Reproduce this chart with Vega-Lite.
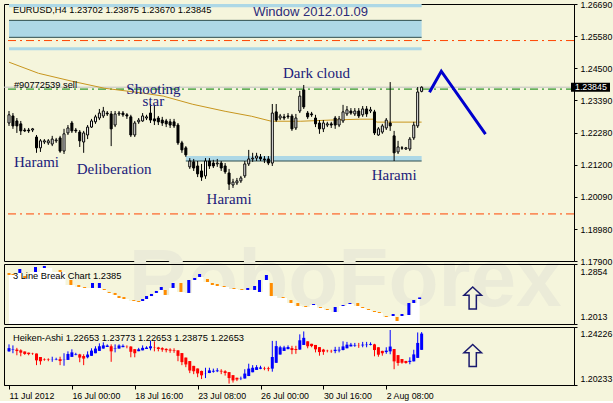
{
"$schema": "https://vega.github.io/schema/vega-lite/v6.json",
"background": "#F5F5DC",
"padding": {"left": 3, "top": -1, "right": 0, "bottom": 0},
"spacing": 3,
"bounds": "flush",
"config": {
  "view": {"stroke": "#000000", "strokeWidth": 1},
  "axis": {"domainColor": "#000000", "tickColor": "#000000", "labelColor": "#000000", "labelFont": "Liberation Sans", "labelFontSize": 8.8, "grid": false, "tickSize": 3, "labelPadding": 3, "labelOverlap": false}
},
"datasets": {
  "candles": [
{"i":0,"o":1.2262,"h":1.2303,"l":1.2252,"c":1.2290},
{"i":1,"o":1.2286,"h":1.2296,"l":1.2242,"c":1.2252},
{"i":2,"o":1.2269,"h":1.2279,"l":1.2228,"c":1.2252},
{"i":3,"o":1.2259,"h":1.2269,"l":1.2221,"c":1.2235},
{"i":4,"o":1.2238,"h":1.2245,"l":1.2231,"c":1.2235},
{"i":5,"o":1.2238,"h":1.2245,"l":1.2228,"c":1.2235},
{"i":6,"o":1.2238,"h":1.2245,"l":1.2231,"c":1.2242},
{"i":7,"o":1.2214,"h":1.2221,"l":1.2160,"c":1.2177},
{"i":8,"o":1.2177,"h":1.2207,"l":1.2163,"c":1.2201},
{"i":9,"o":1.2197,"h":1.2207,"l":1.2190,"c":1.2201},
{"i":10,"o":1.2194,"h":1.2207,"l":1.2187,"c":1.2201},
{"i":11,"o":1.2190,"h":1.2218,"l":1.2183,"c":1.2207},
{"i":12,"o":1.2201,"h":1.2211,"l":1.2194,"c":1.2204},
{"i":13,"o":1.2211,"h":1.2218,"l":1.2160,"c":1.2166},
{"i":14,"o":1.2166,"h":1.2242,"l":1.2156,"c":1.2225},
{"i":15,"o":1.2228,"h":1.2255,"l":1.2221,"c":1.2245},
{"i":16,"o":1.2262,"h":1.2269,"l":1.2228,"c":1.2235},
{"i":17,"o":1.2238,"h":1.2245,"l":1.2228,"c":1.2235},
{"i":18,"o":1.2231,"h":1.2238,"l":1.2180,"c":1.2201},
{"i":19,"o":1.2197,"h":1.2235,"l":1.2160,"c":1.2228},
{"i":20,"o":1.2221,"h":1.2255,"l":1.2207,"c":1.2248},
{"i":21,"o":1.2248,"h":1.2276,"l":1.2245,"c":1.2269},
{"i":22,"o":1.2266,"h":1.2290,"l":1.2259,"c":1.2283},
{"i":23,"o":1.2279,"h":1.2310,"l":1.2272,"c":1.2296},
{"i":24,"o":1.2286,"h":1.2317,"l":1.2279,"c":1.2303},
{"i":25,"o":1.2296,"h":1.2303,"l":1.2286,"c":1.2293},
{"i":26,"o":1.2293,"h":1.2303,"l":1.2183,"c":1.2242},
{"i":27,"o":1.2255,"h":1.2303,"l":1.2248,"c":1.2293},
{"i":28,"o":1.2293,"h":1.2303,"l":1.2286,"c":1.2296},
{"i":29,"o":1.2296,"h":1.2303,"l":1.2283,"c":1.2290},
{"i":30,"o":1.2290,"h":1.2296,"l":1.2276,"c":1.2286},
{"i":31,"o":1.2283,"h":1.2290,"l":1.2214,"c":1.2221},
{"i":32,"o":1.2221,"h":1.2269,"l":1.2214,"c":1.2262},
{"i":33,"o":1.2266,"h":1.2279,"l":1.2259,"c":1.2272},
{"i":34,"o":1.2269,"h":1.2296,"l":1.2266,"c":1.2286},
{"i":35,"o":1.2279,"h":1.2290,"l":1.2272,"c":1.2283},
{"i":36,"o":1.2296,"h":1.2327,"l":1.2262,"c":1.2272},
{"i":37,"o":1.2276,"h":1.2324,"l":1.2255,"c":1.2269},
{"i":38,"o":1.2279,"h":1.2286,"l":1.2255,"c":1.2266},
{"i":39,"o":1.2272,"h":1.2283,"l":1.2252,"c":1.2262},
{"i":40,"o":1.2269,"h":1.2276,"l":1.2248,"c":1.2259},
{"i":41,"o":1.2266,"h":1.2276,"l":1.2245,"c":1.2255},
{"i":42,"o":1.2266,"h":1.2276,"l":1.2245,"c":1.2252},
{"i":43,"o":1.2255,"h":1.2262,"l":1.2187,"c":1.2194},
{"i":44,"o":1.2194,"h":1.2201,"l":1.2160,"c":1.2170},
{"i":45,"o":1.2177,"h":1.2183,"l":1.2146,"c":1.2153},
{"i":46,"o":1.2112,"h":1.2142,"l":1.2105,"c":1.2132},
{"i":47,"o":1.2129,"h":1.2139,"l":1.2098,"c":1.2108},
{"i":48,"o":1.2115,"h":1.2132,"l":1.2077,"c":1.2088},
{"i":49,"o":1.2098,"h":1.2122,"l":1.2064,"c":1.2077},
{"i":50,"o":1.2081,"h":1.2142,"l":1.2071,"c":1.2132},
{"i":51,"o":1.2132,"h":1.2142,"l":1.2105,"c":1.2115},
{"i":52,"o":1.2125,"h":1.2136,"l":1.2108,"c":1.2115},
{"i":53,"o":1.2122,"h":1.2139,"l":1.2112,"c":1.2125},
{"i":54,"o":1.2125,"h":1.2132,"l":1.2098,"c":1.2108},
{"i":55,"o":1.2115,"h":1.2125,"l":1.2088,"c":1.2095},
{"i":56,"o":1.2091,"h":1.2105,"l":1.2033,"c":1.2053},
{"i":57,"o":1.2050,"h":1.2071,"l":1.2040,"c":1.2060},
{"i":58,"o":1.2057,"h":1.2074,"l":1.2050,"c":1.2064},
{"i":59,"o":1.2064,"h":1.2081,"l":1.2057,"c":1.2074},
{"i":60,"o":1.2081,"h":1.2132,"l":1.2074,"c":1.2122},
{"i":61,"o":1.2122,"h":1.2170,"l":1.2115,"c":1.2139},
{"i":62,"o":1.2139,"h":1.2160,"l":1.2129,"c":1.2142},
{"i":63,"o":1.2142,"h":1.2160,"l":1.2132,"c":1.2149},
{"i":64,"o":1.2146,"h":1.2156,"l":1.2132,"c":1.2139},
{"i":65,"o":1.2139,"h":1.2149,"l":1.2125,"c":1.2136},
{"i":66,"o":1.2139,"h":1.2149,"l":1.2118,"c":1.2125},
{"i":67,"o":1.2125,"h":1.2327,"l":1.2115,"c":1.2296},
{"i":68,"o":1.2300,"h":1.2327,"l":1.2266,"c":1.2272},
{"i":69,"o":1.2279,"h":1.2293,"l":1.2272,"c":1.2286},
{"i":70,"o":1.2283,"h":1.2293,"l":1.2272,"c":1.2279},
{"i":71,"o":1.2286,"h":1.2296,"l":1.2276,"c":1.2283},
{"i":72,"o":1.2286,"h":1.2293,"l":1.2235,"c":1.2242},
{"i":73,"o":1.2245,"h":1.2293,"l":1.2238,"c":1.2279},
{"i":74,"o":1.2303,"h":1.2372,"l":1.2296,"c":1.2354},
{"i":75,"o":1.2375,"h":1.2392,"l":1.2310,"c":1.2317},
{"i":76,"o":1.2296,"h":1.2303,"l":1.2276,"c":1.2283},
{"i":77,"o":1.2293,"h":1.2300,"l":1.2283,"c":1.2290},
{"i":78,"o":1.2279,"h":1.2290,"l":1.2248,"c":1.2259},
{"i":79,"o":1.2262,"h":1.2272,"l":1.2225,"c":1.2242},
{"i":80,"o":1.2242,"h":1.2272,"l":1.2231,"c":1.2262},
{"i":81,"o":1.2255,"h":1.2266,"l":1.2248,"c":1.2259},
{"i":82,"o":1.2259,"h":1.2266,"l":1.2245,"c":1.2255},
{"i":83,"o":1.2279,"h":1.2286,"l":1.2242,"c":1.2255},
{"i":84,"o":1.2255,"h":1.2286,"l":1.2248,"c":1.2276},
{"i":85,"o":1.2269,"h":1.2324,"l":1.2262,"c":1.2300},
{"i":86,"o":1.2293,"h":1.2320,"l":1.2286,"c":1.2307},
{"i":87,"o":1.2303,"h":1.2313,"l":1.2290,"c":1.2296},
{"i":88,"o":1.2293,"h":1.2313,"l":1.2286,"c":1.2303},
{"i":89,"o":1.2303,"h":1.2313,"l":1.2279,"c":1.2286},
{"i":90,"o":1.2290,"h":1.2320,"l":1.2283,"c":1.2310},
{"i":91,"o":1.2310,"h":1.2320,"l":1.2283,"c":1.2293},
{"i":92,"o":1.2303,"h":1.2317,"l":1.2296,"c":1.2307},
{"i":93,"o":1.2300,"h":1.2307,"l":1.2221,"c":1.2228},
{"i":94,"o":1.2221,"h":1.2248,"l":1.2218,"c":1.2242},
{"i":95,"o":1.2231,"h":1.2259,"l":1.2225,"c":1.2252},
{"i":96,"o":1.2245,"h":1.2279,"l":1.2238,"c":1.2272},
{"i":97,"o":1.2262,"h":1.2402,"l":1.2235,"c":1.2252},
{"i":98,"o":1.2218,"h":1.2235,"l":1.2132,"c":1.2160},
{"i":99,"o":1.2163,"h":1.2201,"l":1.2156,"c":1.2180},
{"i":100,"o":1.2177,"h":1.2183,"l":1.2170,"c":1.2176},
{"i":101,"o":1.2173,"h":1.2180,"l":1.2170,"c":1.2177},
{"i":102,"o":1.2173,"h":1.2214,"l":1.2166,"c":1.2207},
{"i":103,"o":1.2211,"h":1.2266,"l":1.2204,"c":1.2255},
{"i":104,"o":1.2252,"h":1.2385,"l":1.2245,"c":1.2368},
{"i":105,"o":1.23702,"h":1.23875,"l":1.23670,"c":1.23845}
  ],
  "ha": [
{"i":0,"o":1.2255,"c":1.2277,"h":1.2303,"l":1.2252},
{"i":1,"o":1.2266,"c":1.2269,"h":1.2296,"l":1.2242},
{"i":2,"o":1.2267,"c":1.2257,"h":1.2279,"l":1.2228},
{"i":3,"o":1.2262,"c":1.2246,"h":1.2269,"l":1.2221},
{"i":4,"o":1.2254,"c":1.2237,"h":1.2254,"l":1.2231},
{"i":5,"o":1.2246,"c":1.2236,"h":1.2246,"l":1.2228},
{"i":6,"o":1.2241,"c":1.2239,"h":1.2245,"l":1.2231},
{"i":7,"o":1.2240,"c":1.2193,"h":1.2240,"l":1.2160},
{"i":8,"o":1.2216,"c":1.2187,"h":1.2216,"l":1.2163},
{"i":9,"o":1.2202,"c":1.2199,"h":1.2207,"l":1.2190},
{"i":10,"o":1.2200,"c":1.2197,"h":1.2207,"l":1.2187},
{"i":11,"o":1.2199,"c":1.2200,"h":1.2218,"l":1.2183},
{"i":12,"o":1.2199,"c":1.2202,"h":1.2211,"l":1.2194},
{"i":13,"o":1.2201,"c":1.2189,"h":1.2218,"l":1.2160},
{"i":14,"o":1.2195,"c":1.2197,"h":1.2242,"l":1.2156},
{"i":15,"o":1.2196,"c":1.2237,"h":1.2255,"l":1.2196},
{"i":16,"o":1.2217,"c":1.2248,"h":1.2269,"l":1.2217},
{"i":17,"o":1.2232,"c":1.2236,"h":1.2245,"l":1.2228},
{"i":18,"o":1.2234,"c":1.2212,"h":1.2238,"l":1.2180},
{"i":19,"o":1.2223,"c":1.2205,"h":1.2235,"l":1.2160},
{"i":20,"o":1.2214,"c":1.2233,"h":1.2255,"l":1.2207},
{"i":21,"o":1.2224,"c":1.2260,"h":1.2276,"l":1.2224},
{"i":22,"o":1.2242,"c":1.2274,"h":1.2290,"l":1.2242},
{"i":23,"o":1.2258,"c":1.2290,"h":1.2310,"l":1.2258},
{"i":24,"o":1.2274,"c":1.2296,"h":1.2317,"l":1.2274},
{"i":25,"o":1.2285,"c":1.2295,"h":1.2303,"l":1.2285},
{"i":26,"o":1.2290,"c":1.2255,"h":1.2303,"l":1.2183},
{"i":27,"o":1.2272,"c":1.2275,"h":1.2303,"l":1.2248},
{"i":28,"o":1.2274,"c":1.2295,"h":1.2303,"l":1.2274},
{"i":29,"o":1.2284,"c":1.2293,"h":1.2303,"l":1.2283},
{"i":30,"o":1.2288,"c":1.2287,"h":1.2296,"l":1.2276},
{"i":31,"o":1.2288,"c":1.2252,"h":1.2290,"l":1.2214},
{"i":32,"o":1.2270,"c":1.2242,"h":1.2270,"l":1.2214},
{"i":33,"o":1.2256,"c":1.2269,"h":1.2279,"l":1.2256},
{"i":34,"o":1.2262,"c":1.2279,"h":1.2296,"l":1.2262},
{"i":35,"o":1.2271,"c":1.2281,"h":1.2290,"l":1.2271},
{"i":36,"o":1.2276,"c":1.2290,"h":1.2327,"l":1.2262},
{"i":37,"o":1.2283,"c":1.2281,"h":1.2324,"l":1.2255},
{"i":38,"o":1.2282,"c":1.2271,"h":1.2286,"l":1.2255},
{"i":39,"o":1.2277,"c":1.2267,"h":1.2283,"l":1.2252},
{"i":40,"o":1.2272,"c":1.2263,"h":1.2276,"l":1.2248},
{"i":41,"o":1.2267,"c":1.2260,"h":1.2276,"l":1.2245},
{"i":42,"o":1.2264,"c":1.2260,"h":1.2276,"l":1.2245},
{"i":43,"o":1.2262,"c":1.2224,"h":1.2262,"l":1.2187},
{"i":44,"o":1.2243,"c":1.2181,"h":1.2243,"l":1.2160},
{"i":45,"o":1.2212,"c":1.2165,"h":1.2212,"l":1.2146},
{"i":46,"o":1.2188,"c":1.2123,"h":1.2188,"l":1.2105},
{"i":47,"o":1.2155,"c":1.2118,"h":1.2155,"l":1.2098},
{"i":48,"o":1.2137,"c":1.2103,"h":1.2137,"l":1.2077},
{"i":49,"o":1.2120,"c":1.2090,"h":1.2122,"l":1.2064},
{"i":50,"o":1.2105,"c":1.2106,"h":1.2142,"l":1.2071},
{"i":51,"o":1.2106,"c":1.2124,"h":1.2142,"l":1.2105},
{"i":52,"o":1.2115,"c":1.2121,"h":1.2136,"l":1.2108},
{"i":53,"o":1.2118,"c":1.2124,"h":1.2139,"l":1.2112},
{"i":54,"o":1.2121,"c":1.2116,"h":1.2132,"l":1.2098},
{"i":55,"o":1.2118,"c":1.2106,"h":1.2125,"l":1.2088},
{"i":56,"o":1.2112,"c":1.2071,"h":1.2112,"l":1.2033},
{"i":57,"o":1.2091,"c":1.2055,"h":1.2091,"l":1.2040},
{"i":58,"o":1.2073,"c":1.2061,"h":1.2074,"l":1.2050},
{"i":59,"o":1.2067,"c":1.2069,"h":1.2081,"l":1.2057},
{"i":60,"o":1.2068,"c":1.2102,"h":1.2132,"l":1.2068},
{"i":61,"o":1.2085,"c":1.2136,"h":1.2170,"l":1.2085},
{"i":62,"o":1.2111,"c":1.2142,"h":1.2160,"l":1.2111},
{"i":63,"o":1.2127,"c":1.2146,"h":1.2160,"l":1.2127},
{"i":64,"o":1.2136,"c":1.2143,"h":1.2156,"l":1.2132},
{"i":65,"o":1.2140,"c":1.2137,"h":1.2149,"l":1.2125},
{"i":66,"o":1.2138,"c":1.2133,"h":1.2149,"l":1.2118},
{"i":67,"o":1.2136,"c":1.2216,"h":1.2327,"l":1.2115},
{"i":68,"o":1.2176,"c":1.2291,"h":1.2327,"l":1.2176},
{"i":69,"o":1.2233,"c":1.2283,"h":1.2293,"l":1.2233},
{"i":70,"o":1.2258,"c":1.2282,"h":1.2293,"l":1.2258},
{"i":71,"o":1.2270,"c":1.2285,"h":1.2296,"l":1.2270},
{"i":72,"o":1.2277,"c":1.2264,"h":1.2293,"l":1.2235},
{"i":73,"o":1.2271,"c":1.2264,"h":1.2293,"l":1.2238},
{"i":74,"o":1.2267,"c":1.2331,"h":1.2372,"l":1.2267},
{"i":75,"o":1.2299,"c":1.2348,"h":1.2392,"l":1.2299},
{"i":76,"o":1.2324,"c":1.2290,"h":1.2324,"l":1.2276},
{"i":77,"o":1.2307,"c":1.2291,"h":1.2307,"l":1.2283},
{"i":78,"o":1.2299,"c":1.2269,"h":1.2299,"l":1.2248},
{"i":79,"o":1.2284,"c":1.2250,"h":1.2284,"l":1.2225},
{"i":80,"o":1.2267,"c":1.2252,"h":1.2272,"l":1.2231},
{"i":81,"o":1.2259,"c":1.2257,"h":1.2266,"l":1.2248},
{"i":82,"o":1.2258,"c":1.2256,"h":1.2266,"l":1.2245},
{"i":83,"o":1.2257,"c":1.2266,"h":1.2286,"l":1.2242},
{"i":84,"o":1.2261,"c":1.2266,"h":1.2286,"l":1.2248},
{"i":85,"o":1.2264,"c":1.2289,"h":1.2324,"l":1.2262},
{"i":86,"o":1.2276,"c":1.2301,"h":1.2320,"l":1.2276},
{"i":87,"o":1.2289,"c":1.2301,"h":1.2313,"l":1.2289},
{"i":88,"o":1.2295,"c":1.2299,"h":1.2313,"l":1.2286},
{"i":89,"o":1.2297,"c":1.2296,"h":1.2313,"l":1.2279},
{"i":90,"o":1.2296,"c":1.2301,"h":1.2320,"l":1.2283},
{"i":91,"o":1.2298,"c":1.2301,"h":1.2320,"l":1.2283},
{"i":92,"o":1.2300,"c":1.2306,"h":1.2317,"l":1.2296},
{"i":93,"o":1.2303,"c":1.2264,"h":1.2307,"l":1.2221},
{"i":94,"o":1.2283,"c":1.2232,"h":1.2283,"l":1.2218},
{"i":95,"o":1.2258,"c":1.2242,"h":1.2259,"l":1.2225},
{"i":96,"o":1.2250,"c":1.2260,"h":1.2283,"l":1.2238},
{"i":97,"o":1.2255,"c":1.2288,"h":1.2402,"l":1.2235},
{"i":98,"o":1.2271,"c":1.2186,"h":1.2271,"l":1.2132},
{"i":99,"o":1.2229,"c":1.2175,"h":1.2229,"l":1.2156},
{"i":100,"o":1.2202,"c":1.2177,"h":1.2202,"l":1.2170},
{"i":101,"o":1.2189,"c":1.2175,"h":1.2189,"l":1.2170},
{"i":102,"o":1.2182,"c":1.2190,"h":1.2214,"l":1.2166},
{"i":103,"o":1.2186,"c":1.2234,"h":1.2266,"l":1.2186},
{"i":104,"o":1.2210,"c":1.2313,"h":1.2385,"l":1.2210},
{"i":105,"o":1.22653,"c":1.23773,"h":1.23875,"l":1.22653}
  ],
  "lb": [
{"i":0,"top":1.2728,"bot":1.2700,"up":false},
{"i":1,"top":1.2714,"bot":1.2700,"up":false},
{"i":2.75,"top":1.2784,"bot":1.2728,"up":true},
{"i":4,"top":1.2686,"bot":1.2658,"up":false},
{"i":6.75,"top":1.2812,"bot":1.2742,"up":true},
{"i":9,"top":1.2826,"bot":1.2798,"up":true},
{"i":13,"top":1.2770,"bot":1.2742,"up":false},
{"i":15.75,"top":1.2630,"bot":1.2560,"up":false},
{"i":17.75,"top":1.2560,"bot":1.2532,"up":false},
{"i":19.25,"top":1.2532,"bot":1.2518,"up":false},
{"i":21.25,"top":1.2588,"bot":1.2518,"up":true},
{"i":23,"top":1.2588,"bot":1.2518,"up":true},
{"i":24.25,"top":1.2504,"bot":1.2490,"up":false},
{"i":25.5,"top":1.2462,"bot":1.2448,"up":false},
{"i":27,"top":1.2448,"bot":1.2420,"up":false},
{"i":28,"top":1.2405,"bot":1.2377,"up":false},
{"i":29.25,"top":1.2391,"bot":1.2363,"up":false},
{"i":31.75,"top":1.2349,"bot":1.2335,"up":false},
{"i":33,"top":1.2335,"bot":1.2321,"up":false},
{"i":34,"top":1.2363,"bot":1.2335,"up":true},
{"i":35,"top":1.2405,"bot":1.2363,"up":true},
{"i":36.25,"top":1.2434,"bot":1.2405,"up":true},
{"i":37.5,"top":1.2476,"bot":1.2448,"up":true},
{"i":38.75,"top":1.2532,"bot":1.2490,"up":true},
{"i":39.75,"top":1.2490,"bot":1.2420,"up":false},
{"i":41.75,"top":1.2588,"bot":1.2518,"up":true},
{"i":43.75,"top":1.2588,"bot":1.2462,"up":false},
{"i":45.75,"top":1.2630,"bot":1.2448,"up":true},
{"i":47.25,"top":1.2658,"bot":1.2630,"up":true},
{"i":48.5,"top":1.2714,"bot":1.2672,"up":true},
{"i":50.5,"top":1.2644,"bot":1.2602,"up":false},
{"i":51.75,"top":1.2588,"bot":1.2560,"up":false},
{"i":53,"top":1.2574,"bot":1.2546,"up":false},
{"i":54.75,"top":1.2546,"bot":1.2532,"up":false},
{"i":57.25,"top":1.2518,"bot":1.2504,"up":false},
{"i":59.25,"top":1.2504,"bot":1.2490,"up":false},
{"i":60.75,"top":1.2518,"bot":1.2490,"up":true},
{"i":62.5,"top":1.2546,"bot":1.2490,"up":true},
{"i":63.75,"top":1.2630,"bot":1.2462,"up":true},
{"i":65.5,"top":1.2700,"bot":1.2630,"up":true},
{"i":66.75,"top":1.2588,"bot":1.2405,"up":false},
{"i":69.75,"top":1.2391,"bot":1.2377,"up":false},
{"i":71.75,"top":1.2349,"bot":1.2307,"up":false},
{"i":73.5,"top":1.2307,"bot":1.2265,"up":false},
{"i":75.5,"top":1.2265,"bot":1.2251,"up":false},
{"i":77.5,"top":1.2293,"bot":1.2279,"up":true},
{"i":79.25,"top":1.2251,"bot":1.2237,"up":false},
{"i":81,"top":1.2223,"bot":1.2209,"up":false},
{"i":83,"top":1.2251,"bot":1.2181,"up":true},
{"i":85,"top":1.2279,"bot":1.2265,"up":true},
{"i":86.75,"top":1.2307,"bot":1.2293,"up":true},
{"i":88.75,"top":1.2307,"bot":1.2265,"up":false},
{"i":90,"top":1.2251,"bot":1.2237,"up":false},
{"i":91.5,"top":1.2223,"bot":1.2209,"up":false},
{"i":93,"top":1.2195,"bot":1.2181,"up":false},
{"i":94.25,"top":1.2181,"bot":1.2167,"up":false},
{"i":96,"top":1.2125,"bot":1.2111,"up":false},
{"i":97.75,"top":1.2153,"bot":1.2125,"up":true},
{"i":98.75,"top":1.2111,"bot":1.2055,"up":false},
{"i":100,"top":1.2153,"bot":1.2125,"up":true},
{"i":101.75,"top":1.2307,"bot":1.2139,"up":true},
{"i":103,"top":1.2349,"bot":1.2307,"up":true},
{"i":104.5,"top":1.2385,"bot":1.2363,"up":true}
  ],
  "ma": [
{"i":0,"v":1.2470},{"i":7.5,"v":1.2432},{"i":16,"v":1.2405},{"i":24.25,"v":1.2381},{"i":34.25,"v":1.2364},{"i":39.25,"v":1.2354},{"i":46.75,"v":1.2326},{"i":55,"v":1.2302},{"i":61.75,"v":1.2285},{"i":66.75,"v":1.2268},{"i":74.25,"v":1.2268},{"i":81.75,"v":1.2272},{"i":89.25,"v":1.2275},{"i":93,"v":1.2275},{"i":93.5,"v":1.2265},{"i":105,"v":1.2265}
  ]
},
"vconcat": [
 {
  "width": 570, "height": 257,
  "layer": [
   {"data": {"values": [{"i0":0,"i1":105,"lo":1.2658,"hi":1.2669},{"i0":0,"i1":105,"lo":1.2555,"hi":1.2613},{"i0":0,"i1":105,"lo":1.2511,"hi":1.2521},{"i0":45,"i1":105,"lo":1.2132,"hi":1.2149}]},
    "mark": {"type": "rect", "color": "#ADD8E6", "clip": true},
    "encoding": {"x": {"field": "i0", "type": "quantitative", "scale": {"domain": [0, 142.5]}, "axis": null}, "x2": {"field": "i1"},
     "y": {"field": "lo", "type": "quantitative", "scale": {"domain": [1.179, 1.2669], "zero": false},
       "axis": {"orient": "right", "values": [1.179, 1.1898, 1.2009, 1.212, 1.2228, 1.2339, 1.245, 1.2558, 1.2669], "tickCount": 20, "format": ".5f", "title": null, "tickSize": 3, "labelOverlap": false}},
     "y2": {"field": "hi"}}},
   {"data": {"values": [{"t":"RoboForex","i":30.5,"p":1.1636}]},
    "mark": {"type": "text", "font": "Liberation Sans", "fontSize": 82, "fontWeight": "bold", "color": "#EBEBD8", "align": "left", "baseline": "alphabetic"},
    "encoding": {"x": {"field": "i", "type": "quantitative", "scale": {"domain": [0, 142.5]}, "axis": null},
     "y": {"field": "p", "type": "quantitative", "scale": {"domain": [1.179, 1.2669], "zero": false}}, "text": {"field": "t"}}},
   {"data": {"values": [{"i0":0,"i1":105,"lv":1.2613},{"i0":0,"i1":105,"lv":1.2555},{"i0":45,"i1":105,"lv":1.2132}]},
    "mark": {"type": "rule", "color": "#2F4F4F", "strokeWidth": 1},
    "encoding": {"x": {"field": "i0", "type": "quantitative", "scale": {"domain": [0, 142.5]}, "axis": null}, "x2": {"field": "i1"},
     "y": {"field": "lv", "type": "quantitative", "scale": {"domain": [1.179, 1.2669], "zero": false}}}},
   {"data": {"values": [{"lv":1.2544},{"lv":1.1951}]},
    "mark": {"type": "rule", "color": "#FF4500", "strokeWidth": 1, "strokeDash": [8, 4, 2, 4]},
    "encoding": {"y": {"field": "lv", "type": "quantitative", "scale": {"domain": [1.179, 1.2669], "zero": false}}}},
   {"data": {"values": [{"lv":1.23845}]},
    "mark": {"type": "rule", "color": "#C0C0C0", "strokeWidth": 1},
    "encoding": {"y": {"field": "lv", "type": "quantitative", "scale": {"domain": [1.179, 1.2669], "zero": false}}}},
   {"data": {"values": [{"lv":1.2378}]},
    "mark": {"type": "rule", "color": "#008000", "strokeWidth": 1, "strokeDash": [8, 4, 2, 4]},
    "encoding": {"y": {"field": "lv", "type": "quantitative", "scale": {"domain": [1.179, 1.2669], "zero": false}}}},
   {"data": {"name": "ma"},
    "mark": {"type": "line", "color": "#C8961E", "strokeWidth": 1, "clip": true},
    "encoding": {"x": {"field": "i", "type": "quantitative", "scale": {"domain": [0, 142.5]}, "axis": null},
     "y": {"field": "v", "type": "quantitative", "scale": {"domain": [1.179, 1.2669], "zero": false}}}},
   {"data": {"name": "candles"},
    "mark": {"type": "rule", "color": "#000000", "strokeWidth": 1, "clip": true},
    "encoding": {"x": {"field": "i", "type": "quantitative", "scale": {"domain": [0, 142.5]}, "axis": null},
     "y": {"field": "l", "type": "quantitative", "scale": {"domain": [1.179, 1.2669], "zero": false}}, "y2": {"field": "h"}}},
   {"data": {"name": "candles"},
    "mark": {"type": "bar", "width": 2, "stroke": "#000000", "strokeWidth": 1, "clip": true},
    "encoding": {"x": {"field": "i", "type": "quantitative", "scale": {"domain": [0, 142.5]}, "axis": null},
     "y": {"field": "o", "type": "quantitative", "scale": {"domain": [1.179, 1.2669], "zero": false}},
     "y2": {"field": "c"},
     "fill": {"condition": {"test": "datum.c >= datum.o", "value": "#FFFFFF"}, "value": "#000000"}}},
   {"data": {"values": [{"t":"Harami","i":7,"p":1.2128},{"t":"Deliberation","i":26.75,"p":1.2104},{"t":"Harami","i":56,"p":1.2002},{"t":"Harami","i":98,"p":1.2084},{"t":"Dark cloud","i":78.25,"p":1.2432}]},
    "mark": {"type": "text", "font": "Liberation Serif", "fontSize": 15, "color": "#20207A", "align": "center", "baseline": "middle"},
    "encoding": {"x": {"field": "i", "type": "quantitative", "scale": {"domain": [0, 142.5]}, "axis": null},
     "y": {"field": "p", "type": "quantitative", "scale": {"domain": [1.179, 1.2669], "zero": false}}, "text": {"field": "t"}}},
   {"data": {"values": [{"t":"Shooting|star","i":36.75,"p":1.2377}]},
    "mark": {"type": "text", "font": "Liberation Serif", "fontSize": 15, "color": "#20207A", "align": "center", "baseline": "middle", "lineBreak": "|", "lineHeight": 11.5},
    "encoding": {"x": {"field": "i", "type": "quantitative", "scale": {"domain": [0, 142.5]}, "axis": null},
     "y": {"field": "p", "type": "quantitative", "scale": {"domain": [1.179, 1.2669], "zero": false}}, "text": {"field": "t"}}},
   {"data": {"values": [{"t":"Window 2012.01.09","i":76.75,"p":1.2642}]},
    "mark": {"type": "text", "font": "Liberation Sans", "fontSize": 13, "color": "#2B2B7A", "align": "center", "baseline": "middle"},
    "encoding": {"x": {"field": "i", "type": "quantitative", "scale": {"domain": [0, 142.5]}, "axis": null},
     "y": {"field": "p", "type": "quantitative", "scale": {"domain": [1.179, 1.2669], "zero": false}}, "text": {"field": "t"}}},
   {"data": {"values": [{"t":"EURUSD,H4  1.23702 1.23875 1.23670 1.23845","i":1,"p":1.26485},{"t":"#90772539 sell","i":1.25,"p":1.2392}]},
    "mark": {"type": "text", "font": "Liberation Sans", "fontSize": 9.3, "color": "#000000", "align": "left", "baseline": "middle"},
    "encoding": {"x": {"field": "i", "type": "quantitative", "scale": {"domain": [0, 142.5]}, "axis": null},
     "y": {"field": "p", "type": "quantitative", "scale": {"domain": [1.179, 1.2669], "zero": false}}, "text": {"field": "t"}}},
   {"data": {"values": [{"i":107,"p":1.2367},{"i":110,"p":1.2439},{"i":121.25,"p":1.2224}]},
    "mark": {"type": "line", "color": "#0000CD", "strokeWidth": 3},
    "encoding": {"x": {"field": "i", "type": "quantitative", "scale": {"domain": [0, 142.5]}, "axis": null},
     "y": {"field": "p", "type": "quantitative", "scale": {"domain": [1.179, 1.2669], "zero": false}}}},
   {"data": {"values": [{"p":1.23845}]},
    "mark": {"type": "rect", "color": "#000000", "xOffset": 2, "x2Offset": 41, "yOffset": -4.5, "y2Offset": 4.5},
    "encoding": {"x": {"datum": 142.5, "type": "quantitative", "scale": {"domain": [0, 142.5]}, "axis": null}, "x2": {"datum": 142.5},
     "y": {"field": "p", "type": "quantitative", "scale": {"domain": [1.179, 1.2669], "zero": false}}, "y2": {"field": "p"}}},
   {"data": {"values": [{"p":1.23845,"t":"1.23845"}]},
    "mark": {"type": "text", "color": "#FFFFFF", "font": "Liberation Sans", "fontSize": 8.8, "align": "left", "baseline": "middle", "dx": 6},
    "encoding": {"x": {"datum": 142.5, "type": "quantitative", "scale": {"domain": [0, 142.5]}, "axis": null},
     "y": {"field": "p", "type": "quantitative", "scale": {"domain": [1.179, 1.2669], "zero": false}}, "text": {"field": "t"}}}
  ]
 },
 {
  "width": 570, "height": 60,
  "layer": [
   {"data": {"name": "lb"},
    "mark": {"type": "area", "color": "#FFFFFF", "interpolate": "step", "clip": true},
    "encoding": {"x": {"field": "i", "type": "quantitative", "scale": {"domain": [0, 142.5]}, "axis": null},
     "y": {"field": "bot", "type": "quantitative", "scale": {"domain": [1.2013, 1.2854], "zero": false},
       "axis": {"orient": "right", "values": [1.2013, 1.2854], "format": ".4f", "title": null, "labelFlush": true, "labelFlushOffset": -3, "tickSize": 3}},
     "y2": {"datum": 1.2013}}},
   {"data": {"name": "lb"},
    "mark": {"type": "bar", "width": 3, "clip": true},
    "encoding": {"x": {"field": "i", "type": "quantitative", "scale": {"domain": [0, 142.5]}, "axis": null},
     "y": {"field": "bot", "type": "quantitative", "scale": {"domain": [1.2013, 1.2854], "zero": false}},
     "y2": {"field": "top"},
     "color": {"condition": {"test": "datum.up", "value": "#0000FF"}, "value": "#FF8C00"}}},
   {"data": {"values": [{"t":"3 Line Break Chart 1.2385","i":1,"p":1.2686}]},
    "mark": {"type": "text", "font": "Liberation Sans", "fontSize": 9.3, "color": "#000000", "align": "left", "baseline": "middle"},
    "encoding": {"x": {"field": "i", "type": "quantitative", "scale": {"domain": [0, 142.5]}, "axis": null},
     "y": {"field": "p", "type": "quantitative", "scale": {"domain": [1.2013, 1.2854], "zero": false}}, "text": {"field": "t"}}},
   {"data": {"values": [{"i":118,"p":1.2377}]},
    "mark": {"type": "point", "shape": "M0,-1L0.8,-0.25L0.33,-0.25L0.33,1L-0.33,1L-0.33,-0.25L-0.8,-0.25Z", "size": 484, "filled": true, "fill": "#F5F5DC", "stroke": "#1A1A6E", "strokeWidth": 1.5, "opacity": 1},
    "encoding": {"x": {"field": "i", "type": "quantitative", "scale": {"domain": [0, 142.5]}, "axis": null},
     "y": {"field": "p", "type": "quantitative", "scale": {"domain": [1.2013, 1.2854], "zero": false}}}}
  ]
 },
 {
  "width": 570, "height": 58,
  "layer": [
   {"data": {"name": "ha"},
    "mark": {"type": "rule", "strokeWidth": 1, "clip": true},
    "encoding": {"x": {"field": "i", "type": "quantitative", "scale": {"domain": [0, 142.5]},
       "axis": {"values": [0, 16, 32, 48, 64, 80, 96], "tickCount": 20, "labelExpr": "['11 Jul 2012','16 Jul 00:00','18 Jul 16:00','23 Jul 08:00','26 Jul 00:00','30 Jul 16:00','2 Aug 08:00'][round(datum.value/16)]", "labelAlign": "left", "tickSize": 4, "labelPadding": 2, "title": null}},
     "y": {"field": "l", "type": "quantitative", "scale": {"domain": [1.20233, 1.24226], "zero": false},
       "axis": {"orient": "right", "values": [1.20233, 1.24226], "format": ".5f", "title": null, "labelFlush": true, "labelFlushOffset": -2, "tickSize": 3}},
     "y2": {"field": "h"},
     "color": {"condition": {"test": "datum.c >= datum.o", "value": "#0000FF"}, "value": "#FF0000"}}},
   {"data": {"name": "ha"},
    "mark": {"type": "bar", "width": 3, "clip": true},
    "encoding": {"x": {"field": "i", "type": "quantitative", "scale": {"domain": [0, 142.5]}},
     "y": {"field": "o", "type": "quantitative", "scale": {"domain": [1.20233, 1.24226], "zero": false}},
     "y2": {"field": "c"},
     "color": {"condition": {"test": "datum.c >= datum.o", "value": "#0000FF"}, "value": "#FF0000"}}},
   {"data": {"values": [{"t":"Heiken-Ashi 1.22653 1.23773 1.22653 1.23875 1.22653","i":1,"p":1.2347}]},
    "mark": {"type": "text", "font": "Liberation Sans", "fontSize": 9.3, "color": "#000000", "align": "left", "baseline": "middle"},
    "encoding": {"x": {"field": "i", "type": "quantitative", "scale": {"domain": [0, 142.5]}},
     "y": {"field": "p", "type": "quantitative", "scale": {"domain": [1.20233, 1.24226], "zero": false}}, "text": {"field": "t"}}},
   {"data": {"values": [{"i":118,"p":1.2226}]},
    "mark": {"type": "point", "shape": "M0,-1L0.8,-0.25L0.33,-0.25L0.33,1L-0.33,1L-0.33,-0.25L-0.8,-0.25Z", "size": 484, "filled": true, "fill": "#F5F5DC", "stroke": "#1A1A6E", "strokeWidth": 1.5, "opacity": 1},
    "encoding": {"x": {"field": "i", "type": "quantitative", "scale": {"domain": [0, 142.5]}},
     "y": {"field": "p", "type": "quantitative", "scale": {"domain": [1.20233, 1.24226], "zero": false}}}}
  ]
 }
]
}
